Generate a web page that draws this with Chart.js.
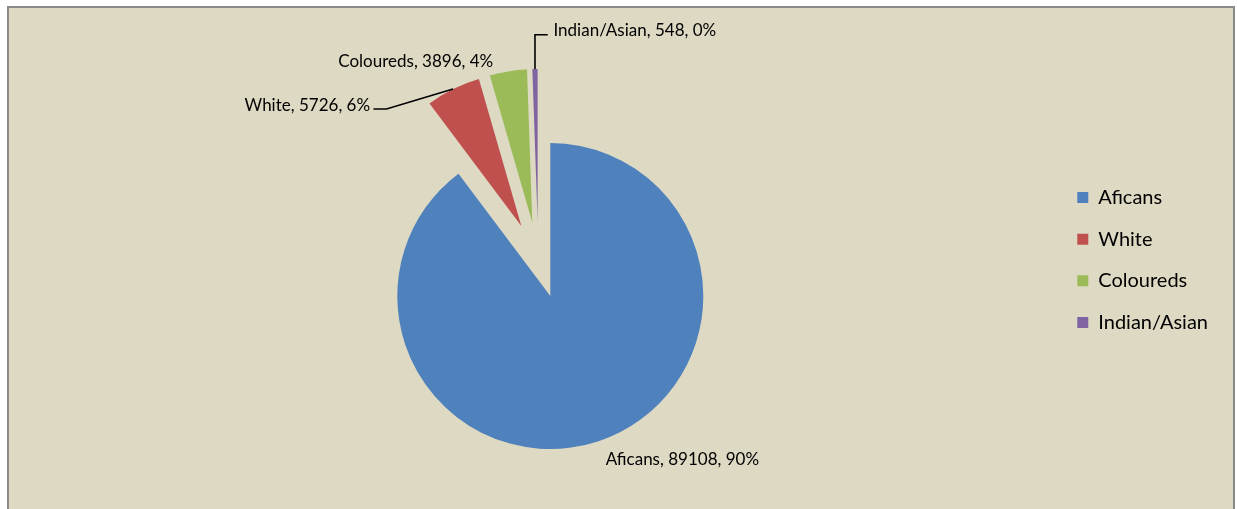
<!DOCTYPE html>
<html lang="en">
<head>
<meta charset="UTF-8">
<title>Population by group</title>
<script src="https://cdn.jsdelivr.net/npm/chart.js"></script>
<style>
  body { margin: 0; background: #fff; width: 1237px; height: 509px; overflow: hidden; position: relative; }
  .frame { position: absolute; left: 7px; top: 6px; width: 1224px; height: 520px; background: #ddd9c3; border: 2px solid #8a8a8a; }
  canvas { position: absolute; left: 0; top: 0; }
</style>
</head>
<body>
<div class="frame"></div>
<canvas id="pie" width="1237" height="509"></canvas>
<script>
const groups = ['Aficans', 'White', 'Coloureds', 'Indian/Asian'];
const counts = [89108, 5726, 3896, 548];
const shares = ['90%', '6%', '4%', '0%'];
const colours = ['#4f81bd', '#c0504d', '#9bbb59', '#8064a2'];

const labelFont = '17px Lato';
const explode = 38; // px every slice is pushed out from the centre

// label placement, measured from the outer middle of each slice
const labelSpots = [
  { dx: 7, dy: 23.5, align: 'left' },
  { dx: -83, dy: 21.5, align: 'right', leader: [[-66.6, 20], [-79.6, 20]] },
  { dx: -15, dy: -4, align: 'right' },
  { dx: 18.5, dy: -32.6, align: 'left', leader: [[0, -34.3], [12.8, -34.3]] }
];

// exploded pie: move each arc's centre out along its own middle angle
const explodeSlices = {
  id: 'explodeSlices',
  beforeDatasetsDraw(chart) {
    const area = chart.chartArea;
    const cx = (area.left + area.right) / 2;
    const cy = (area.top + area.bottom) / 2;
    chart.getDatasetMeta(0).data.forEach(arc => {
      const mid = (arc.startAngle + arc.endAngle) / 2;
      arc.x = cx + Math.cos(mid) * explode;
      arc.y = cy + Math.sin(mid) * explode;
    });
  }
};

// "name, value, share" labels with elbow leader lines
const sliceLabels = {
  id: 'sliceLabels',
  afterDatasetsDraw(chart) {
    const ctx = chart.ctx;
    ctx.save();
    ctx.font = labelFont;
    ctx.fillStyle = '#000';
    ctx.strokeStyle = '#000';
    ctx.lineWidth = 1.6;
    ctx.textBaseline = 'alphabetic';
    chart.getDatasetMeta(0).data.forEach((arc, i) => {
      const mid = (arc.startAngle + arc.endAngle) / 2;
      const ax = arc.x + Math.cos(mid) * arc.outerRadius;
      const ay = arc.y + Math.sin(mid) * arc.outerRadius;
      const spot = labelSpots[i];
      if (spot.leader) {
        ctx.beginPath();
        ctx.moveTo(ax, ay);
        spot.leader.forEach(p => ctx.lineTo(ax + p[0], ay + p[1]));
        ctx.stroke();
      }
      ctx.textAlign = spot.align;
      ctx.fillText(groups[i] + ', ' + counts[i] + ', ' + shares[i], ax + spot.dx, ay + spot.dy);
    });
    ctx.restore();
  }
};

new Chart(document.getElementById('pie'), {
  type: 'pie',
  data: {
    labels: groups,
    datasets: [{
      data: counts,
      backgroundColor: colours,
      borderWidth: 0
    }]
  },
  options: {
    responsive: false,
    animation: false,
    radius: 153,
    layout: { padding: { top: 11, bottom: 0, left: 21, right: 19 } },
    plugins: {
      tooltip: { enabled: false },
      legend: {
        position: 'right',
        labels: {
          boxWidth: 11,
          boxHeight: 11,
          padding: 21.7,
          color: '#000',
          font: { family: 'Lato', size: 20 }
        }
      }
    }
  },
  plugins: [explodeSlices, sliceLabels]
});
</script>
</body>
</html>
